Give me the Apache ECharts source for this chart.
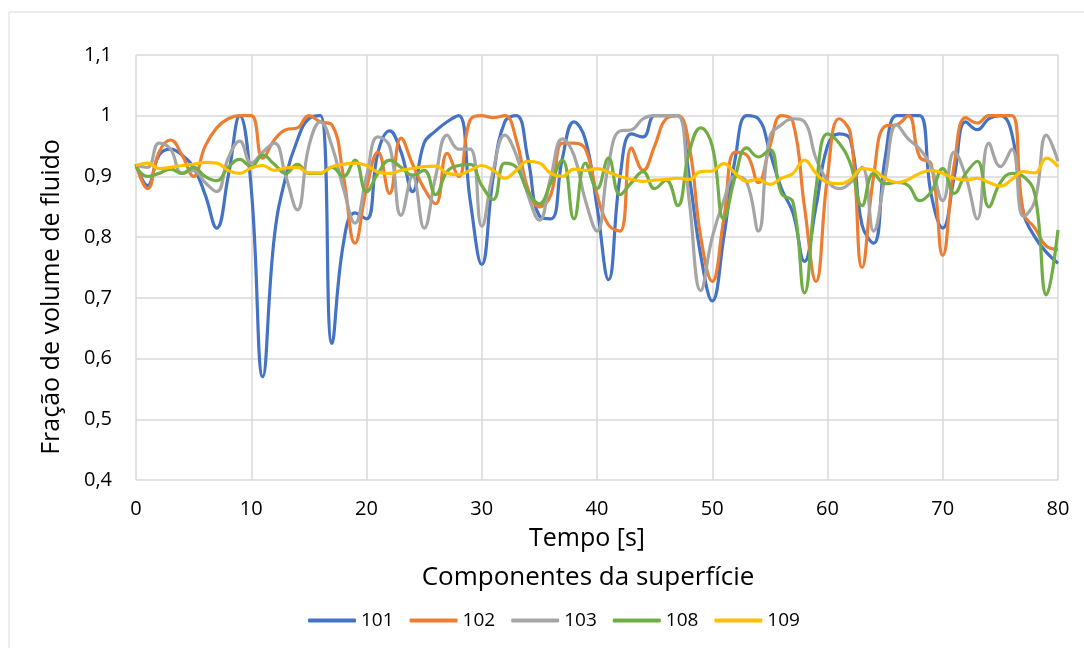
<!DOCTYPE html>
<html>
<head>
<meta charset="utf-8">
<script src="https://cdn.jsdelivr.net/npm/echarts@6/dist/echarts.min.js"></script>
<style>
html,body{margin:0;padding:0;background:#fff;}
#c{width:1084px;height:648px;}
</style>
</head>
<body>
<div id="c"></div>
<script>
const times = Array.from({length: 81}, (_, i) => i);
const seriesNames = ['101', '102', '103', '108', '109'];
const s101 = [0.92,0.885,0.935,0.945,0.935,0.915,0.87,0.815,0.9,1.0,0.88,0.57,0.8,0.9,0.96,0.995,1.0,0.625,0.79,0.84,0.83,0.94,0.975,0.94,0.875,0.955,0.975,0.99,1.0,0.86,0.755,0.9,0.99,1.0,0.93,0.835,0.83,0.93,0.99,0.96,0.85,0.73,0.9,0.97,0.965,1.0,1.0,1.0,0.9,0.77,0.695,0.8,0.93,1.0,0.995,0.94,0.88,0.84,0.76,0.85,0.95,0.97,0.96,0.82,0.79,0.93,1.0,1.0,1.0,0.87,0.815,0.9,0.99,0.977,0.995,1.0,0.97,0.84,0.8,0.775,0.757];
const s102 = [0.92,0.88,0.94,0.96,0.935,0.9,0.95,0.98,0.995,1.0,1.0,0.93,0.96,0.977,0.98,1.0,0.99,0.985,0.9,0.79,0.88,0.94,0.872,0.963,0.92,0.88,0.855,0.938,0.9,0.993,1.0,0.997,1.0,0.96,0.88,0.85,0.87,0.955,0.955,0.945,0.87,0.82,0.81,0.947,0.91,0.95,0.995,1.0,0.95,0.8,0.727,0.83,0.94,0.935,0.89,0.95,1.0,0.99,0.85,0.727,0.9,0.995,0.97,0.75,0.9,0.983,0.985,1.0,0.932,0.92,0.77,0.92,0.997,0.988,1.0,1.0,1.0,0.84,0.815,0.785,0.78];
const s103 = [0.918,0.915,0.955,0.945,0.905,0.91,0.89,0.875,0.93,0.958,0.922,0.94,0.955,0.9,0.845,0.95,0.99,0.95,0.88,0.823,0.9,0.965,0.95,0.836,0.9,0.815,0.9,0.968,0.945,0.945,0.818,0.91,0.968,0.935,0.87,0.828,0.9,0.962,0.935,0.86,0.81,0.92,0.975,0.977,0.995,1.0,1.0,1.0,0.86,0.712,0.8,0.86,0.9,0.89,0.81,0.965,0.985,0.995,0.99,0.93,0.893,0.88,0.89,0.915,0.81,0.9,0.985,0.962,0.945,0.915,0.86,0.94,0.9,0.83,0.955,0.916,0.945,0.834,0.86,0.968,0.925];
const s108 = [0.916,0.9,0.905,0.912,0.905,0.915,0.9,0.893,0.915,0.928,0.916,0.935,0.92,0.905,0.92,0.905,0.905,0.915,0.9,0.927,0.875,0.905,0.927,0.915,0.902,0.91,0.87,0.908,0.918,0.92,0.885,0.862,0.922,0.915,0.875,0.855,0.89,0.927,0.83,0.922,0.88,0.93,0.87,0.89,0.908,0.88,0.894,0.852,0.94,0.98,0.95,0.83,0.9,0.947,0.932,0.944,0.872,0.858,0.708,0.88,0.97,0.955,0.92,0.852,0.905,0.888,0.89,0.885,0.86,0.875,0.913,0.872,0.905,0.925,0.85,0.89,0.905,0.9,0.87,0.705,0.812];
const s109 = [0.918,0.922,0.913,0.915,0.918,0.92,0.923,0.922,0.91,0.905,0.914,0.918,0.91,0.914,0.915,0.906,0.906,0.916,0.92,0.922,0.918,0.907,0.905,0.91,0.913,0.916,0.917,0.905,0.903,0.91,0.918,0.91,0.897,0.91,0.925,0.922,0.905,0.9,0.912,0.91,0.913,0.907,0.9,0.895,0.892,0.894,0.895,0.897,0.895,0.908,0.909,0.921,0.905,0.892,0.895,0.887,0.897,0.905,0.927,0.905,0.89,0.888,0.895,0.913,0.91,0.897,0.89,0.895,0.905,0.91,0.905,0.897,0.894,0.897,0.89,0.884,0.895,0.908,0.906,0.93,0.916];
const colors = ['#4472C4', '#ED7D31', '#A5A5A5', '#70AD47', '#FFC000'];
const allData = [s101, s102, s103, s108, s109];

const font = '"Open Sans", "Noto Sans", sans-serif';
const chart = echarts.init(document.getElementById('c'), null, {renderer: 'canvas'});
const series = seriesNames.map((n, i) => ({
  name: n,
  type: 'line',
  data: times.map((t, k) => [t, allData[i][k]]),
  smooth: 0.45,
  showSymbol: false,
  symbol: 'none',
  lineStyle: {width: 3.2, color: colors[i]},
  itemStyle: {color: colors[i]},
  z: 2 + i
}));

chart.setOption({
  animation: false,
  backgroundColor: '#fff',
  graphic: [
    {type: 'rect', shape: {x: 9, y: 12, width: 1090, height: 650}, style: {fill: 'none', stroke: '#D9D9D9', lineWidth: 1}, silent: true, z: -1},
    {type: 'text', x: 587, y: 539, style: {text: 'Tempo [s]', font: '25px ' + font, fill: '#000', align: 'center', verticalAlign: 'middle'}},
    {type: 'text', x: 588, y: 578, style: {text: 'Componentes da superfície', font: '26px ' + font, fill: '#000', align: 'center', verticalAlign: 'middle'}},
    {type: 'text', x: 52, y: 297, rotation: Math.PI / 2, style: {text: 'Fração de volume de fluido', font: '25px ' + font, fill: '#000', align: 'center', verticalAlign: 'middle'}}
  ],
  grid: {left: 136, right: 26, top: 55, bottom: 168},
  legend: {
    data: seriesNames,
    top: 611,
    left: 308,
    padding: 0,
    icon: 'roundRect',
    itemWidth: 48,
    itemHeight: 4,
    itemGap: 16,
    textStyle: {fontFamily: font, fontSize: 19, color: '#000', padding: [0, 0, 0, 0]}
  },
  xAxis: {
    type: 'value',
    min: 0, max: 80, interval: 10,
    axisLine: {show: false},
    axisTick: {show: false},
    axisLabel: {fontFamily: font, fontSize: 20, color: '#000', margin: 19},
    splitLine: {show: true, lineStyle: {color: '#D9D9D9', width: 1.5}}
  },
  yAxis: {
    type: 'value',
    min: 0.4, max: 1.1, interval: 0.1,
    axisLine: {show: false},
    axisTick: {show: false},
    axisLabel: {fontFamily: font, fontSize: 20, color: '#000', margin: 24,
      formatter: v => (Math.round(v * 10) / 10).toString().replace('.', ',')},
    splitLine: {show: true, lineStyle: {color: '#D9D9D9', width: 1.5}}
  },
  series: series
});
</script>
</body>
</html>
